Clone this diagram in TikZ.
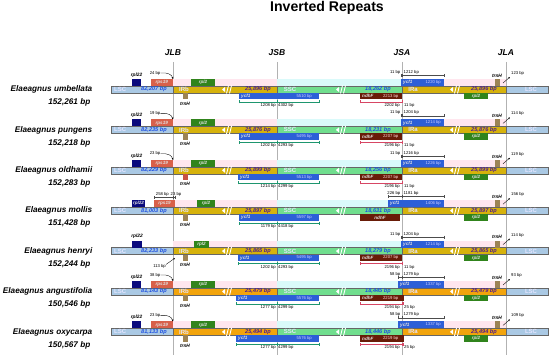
\documentclass[tikz,border=0pt]{standalone}
\usepackage{fontspec}
\setmainfont{Liberation Sans}
\usetikzlibrary{arrows.meta}
\definecolor{lscblue}{RGB}{170,201,228}
\definecolor{irgold}{RGB}{214,178,12}
\definecolor{irorange}{RGB}{242,164,12}
\definecolor{sscgreen}{RGB}{112,222,142}
\definecolor{ycfblue}{RGB}{45,95,215}
\definecolor{ndhbrown}{RGB}{105,28,8}
\definecolor{rpsred}{RGB}{216,96,74}
\definecolor{rplnavy}{RGB}{10,10,125}
\definecolor{rplgreen}{RGB}{48,132,28}
\definecolor{trnbrown}{RGB}{156,131,85}
\definecolor{trnred}{RGB}{200,82,70}
\definecolor{lenblue}{RGB}{30,80,225}
\definecolor{lenpurple}{RGB}{78,28,145}
\definecolor{irpink}{RGB}{255,230,238}
\definecolor{ssccyan}{RGB}{218,250,250}
\definecolor{junctiongray}{RGB}{178,178,178}
\definecolor{dimteal}{RGB}{30,150,110}
\definecolor{dimpink}{RGB}{215,70,100}

\tikzset{
  barseg/.style={draw=black!60, line width=0.5pt},
  genetxt/.style={font=\fontsize{4.6}{5}\selectfont\bfseries\itshape, text=white!88!black, inner sep=0pt},
  genename/.style={font=\fontsize{4.8}{5}\selectfont\bfseries\itshape, inner sep=0pt},
  bptxt/.style={font=\fontsize{4.2}{5}\selectfont, inner sep=0pt},
  boxbp/.style={font=\fontsize{4.2}{5}\selectfont, text=white!80!blue, inner sep=0pt},
  regtxt/.style={font=\fontsize{6}{7}\selectfont\bfseries, text=white!90!blue, inner sep=0pt},
  lentxt/.style={font=\fontsize{5.6}{6}\selectfont\bfseries\itshape, inner sep=0pt},
  nametxt/.style={font=\fontsize{8.2}{9}\selectfont\bfseries\itshape, inner sep=0pt},
  junctxt/.style={font=\fontsize{8.5}{9}\selectfont\bfseries\itshape, inner sep=0pt},
  dimbar/.style={{Bar[width=3pt]}-{Bar[width=3pt]}, line width=0.4pt},
  bparrow/.style={-{Stealth[length=2pt,width=1.6pt]}, line width=0.35pt},
  junction/.style={draw=junctiongray, line width=0.5pt}
}

% one genome bar: ir colour, name, size, lsc, ir, ssc
\newcommand{\speciesbar}[6]{%
  \fill[irpink] (173,-10.5) rectangle (277,-3.5);
  \fill[irpink] (402,-10.5) rectangle (506,-3.5);
  \fill[ssccyan] (277,-10.5) rectangle (402,-3.5);
  \filldraw[barseg, fill=lscblue] (111,-3.5) rectangle (173,3.5);
  \filldraw[barseg, fill=#1] (173,-3.5) rectangle (277,3.5);
  \filldraw[barseg, fill=sscgreen] (277,-3.5) rectangle (402,3.5);
  \filldraw[barseg, fill=#1] (402,-3.5) rectangle (506,3.5);
  \filldraw[barseg, fill=lscblue] (506,-3.5) rectangle (548,3.5);
  \foreach \bx in {222,336,450} {
    \fill[white] (\bx,0) -- (\bx+3,-2.6) -- (\bx+3,2.6) -- cycle;
    \draw[white, line width=0.9pt] (\bx+4.5,4) -- (\bx+6.5,-4) (\bx+7.5,4) -- (\bx+9.5,-4);
  }
  \node[regtxt, anchor=west] (lscbtag) at (114,0) {LSC};
  \node[lentxt, text=lenblue] (lscblen) at (154,0) {#4};
  \node[regtxt] (irbtag) at (184,0) {IRb};
  \node[lentxt, text=lenpurple] (irblen) at (258,0) {#5};
  \node[regtxt] (ssctag) at (290,0) {SSC};
  \node[lentxt, text=lenblue] (ssclen) at (378,0) {#6};
  \node[regtxt] (iratag) at (413,0) {IRa};
  \node[lentxt, text=lenpurple] (iralen) at (484,0) {#5};
  \node[regtxt] (lscatag) at (531,0) {LSC};
  \node[nametxt, anchor=east] (spname) at (92.5,0) {#2};
  \node[nametxt, anchor=east] (spsize) at (90.5,13) {#3};
}

% rpl22, rps19 and rpl2 at JLB
\newcommand{\leftgenes}[1]{%
  \fill[rplnavy] (132,-10.5) rectangle (141,-3.5);
  \node[genename] (rpltag) at (136.5,-14.5) {rpl22};
  \fill[rpsred] (151,-10.5) rectangle (172.5,-3.5);
  \node[genetxt] (rpstag) at (161.75,-7) {rps19};
  \node[bptxt, anchor=east] (rpsbp) at (160.5,-16.5) {#1};
  \coordinate (rpstip) at (172.5,-10.5);
  \draw[bparrow] (rpsbp.east) .. controls +(7,-1) and +(0,-4) .. (rpstip);
  \fill[rplgreen] (191,-10.5) rectangle (215,-3.5);
  \node[genetxt] (rpl2tag) at (203,-7) {rpl2};
}

\newcommand{\trnhb}[1]{%
  \fill[#1] (182.5,3.5) rectangle (187.5,10);
  \node[genename] (trnbtag) at (185,14) {trnH};
}

% ycf1 across JSB: start, length, left, right
\newcommand{\ycfjsb}[4]{%
  \fill[ycfblue] (#1,3.5) rectangle (319,10);
  \node[genetxt, anchor=west] (ycfbtag) at (#1+2,6.75) {ycf1};
  \node[boxbp, anchor=east] (ycfblen) at (312,6.75) {#2};
  \coordinate (ycfbl) at (#1,12.5);
  \coordinate (ycfbm) at (277,12.5);
  \coordinate (ycfbr) at (319,12.5);
  \draw[dimbar, draw=dimteal] (ycfbl) -- (ycfbr);
  \draw[dimteal, line width=0.4pt] (ycfbm) ++(0,-1.5) -- ++(0,3);
  \node[bptxt, anchor=east] (ycfbleft) at (276,16) {#3};
  \node[bptxt, anchor=west] (ycfbright) at (278,16) {#4};
}

% ndhF across JSA: end, length, left, right
\newcommand{\ndhjsa}[4]{%
  \fill[ndhbrown] (360,3.5) rectangle (#1,10);
  \node[genetxt, anchor=west] (ndhtag) at (362,6.75) {ndhF};
  \node[boxbp, anchor=east, text=white!85!red] (ndhlen) at (398.5,6.75) {#2};
  \coordinate (ndhl) at (360,12.5);
  \coordinate (ndhm) at (402,12.5);
  \coordinate (ndhr) at (#1,12.5);
  \draw[dimbar, draw=dimpink] (ndhl) -- (ndhr);
  \draw[dimpink, line width=0.4pt] (ndhm) ++(0,-1.5) -- ++(0,3);
  \node[bptxt, anchor=east] (ndhleft) at (400,16) {#3};
  \node[bptxt, anchor=west] (ndhright) at (404,16) {#4};
}

% ycf1 across JSA: start, length, left, right
\newcommand{\ycfjsa}[4]{%
  \fill[ycfblue] (#1,-10.5) rectangle (444,-3.5);
  \node[genetxt, anchor=west] (ycfatag) at (#1+2,-7) {ycf1};
  \node[boxbp, anchor=east] (ycfalen) at (441,-7) {#2};
  \coordinate (ycfal) at (#1,-14);
  \coordinate (ycfam) at (402,-14);
  \coordinate (ycfar) at (444,-14);
  \draw[dimbar, draw=black!70] (ycfal) -- (ycfar);
  \draw[black!70, line width=0.4pt] (ycfam) ++(0,-1.5) -- ++(0,3);
  \node[bptxt, anchor=east] (ycfaleft) at (400.5,-17) {#3};
  \node[bptxt, anchor=west] (ycfaright) at (403.5,-17) {#4};
}

% rpl2 and trnH at JLA
\newcommand{\rightgenes}[1]{%
  \fill[rplgreen] (464,3.5) rectangle (488,10);
  \node[genetxt] (rpl2atag) at (476,6.75) {rpl2};
  \fill[trnbrown] (495,-10.5) rectangle (500,-3.5);
  \node[genename] (trnatag) at (497,-13.8) {trnH};
  \coordinate (trnaa) at (503,-6.5);
  \coordinate (trnab) at (510,-12.5);
  \draw[bparrow] (trnaa) -- (trnab);
  \node[bptxt, anchor=west] (trnabp) at (511,-16) {#1};
}

\begin{document}
\begin{tikzpicture}[x=1pt, y=-1pt]
  \useasboundingbox (0,0) rectangle (550,355);

  \node[font=\fontsize{14.1}{16}\selectfont\bfseries, inner sep=0pt, anchor=base] (title) at (327,12) {Inverted Repeats};

  \foreach \jx/\jname in {173/JLB, 277/JSB, 402/JSA, 506/JLA} {
    \node[junctxt] (\jname) at (\jx,53) {\jname};
    \draw[junction] (\jx,62) -- (\jx,355);
  }

  \begin{scope}[shift={(0,89.5)}]
    \speciesbar{irgold}{Elaeagnus umbellata}{152,261 bp}{82,207 bp}{25,896 bp}{18,262 bp}
    \leftgenes{24 bp}
    \trnhb{trnbrown}
    \ycfjsb{239}{5510 bp}{1208 bp}{4302 bp}
    \ndhjsa{402}{2213 bp}{2202 bp}{11 bp}
    \ycfjsa{401}{1220 bp}{11 bp}{1212 bp}
    \rightgenes{123 bp}
  \end{scope}

  \begin{scope}[shift={(0,129.9)}]
    \speciesbar{irgold}{Elaeagnus pungens}{152,218 bp}{82,235 bp}{25,876 bp}{18,231 bp}
    \leftgenes{19 bp}
    \trnhb{trnbrown}
    \ycfjsb{239}{5495 bp}{1202 bp}{4293 bp}
    \ndhjsa{402}{2207 bp}{2196 bp}{11 bp}
    \ycfjsa{401}{1214 bp}{11 bp}{1204 bp}
    \rightgenes{114 bp}
  \end{scope}

  \begin{scope}[shift={(0,170.3)}]
    \speciesbar{irgold}{Elaeagnus oldhamii}{152,283 bp}{82,229 bp}{25,899 bp}{18,256 bp}
    \leftgenes{23 bp}
    \trnhb{trnred}
    \ycfjsb{238}{5513 bp}{1214 bp}{4299 bp}
    \ndhjsa{402}{2207 bp}{2196 bp}{11 bp}
    \ycfjsa{401}{1226 bp}{11 bp}{1216 bp}
    \rightgenes{119 bp}
  \end{scope}

  \begin{scope}[shift={(0,210.7)}]
    \speciesbar{irgold}{Elaeagnus mollis}{151,428 bp}{81,003 bp}{25,897 bp}{18,631 bp}
    \fill[rplnavy] (132,-10.5) rectangle (145,-3.5);
    \node[genetxt] (rpltag) at (138.5,-7) {rpl22};
    \fill[rpsred] (154,-10.5) rectangle (175,-3.5);
    \node[genetxt] (rpstag) at (164.5,-7) {rps19};
    \coordinate (rpsl) at (154,-13.5);
    \coordinate (rpsm) at (173,-13.5);
    \coordinate (rpsr) at (175,-13.5);
    \draw[dimbar, draw=black!70] (rpsl) -- (rpsr);
    \draw[black!70, line width=0.4pt] (rpsm) ++(0,-1.5) -- ++(0,3);
    \node[bptxt, anchor=east] (rpsleft) at (169,-16.5) {258 bp};
    \node[bptxt, anchor=west] (rpsright) at (170.5,-16.5) {23 bp};
    \fill[rplgreen] (197,-10.5) rectangle (215,-3.5);
    \node[genetxt] (rpl2tag) at (206,-7) {rpl2};
    \trnhb{trnbrown}
    \ycfjsb{239}{5597 bp}{1179 bp}{4418 bp}
    \fill[ndhbrown] (360,3.5) rectangle (400,10);
    \node[genetxt] (ndhtag) at (380,6.75) {ndhF};
    \ycfjsa{388}{1406 bp}{226 bp}{1181 bp}
    \rightgenes{156 bp}
  \end{scope}

  \begin{scope}[shift={(0,251.1)}]
    \speciesbar{irgold}{Elaeagnus henryi}{152,244 bp}{82,233 bp}{25,865 bp}{18,279 bp}
    \fill[rplnavy] (132,-10.5) rectangle (142,-3.5);
    \node[genename] (rpltag) at (137,-14.5) {rpl22};
    \fill[rplgreen] (194,-10.5) rectangle (209,-3.5);
    \node[genetxt] (rpl2tag) at (201.5,-7) {rpl2};
    \trnhb{trnbrown}
    \node[bptxt, anchor=east] (trnbbp) at (166,15.5) {113 bp};
    \coordinate (trnbtip) at (175,7);
    \draw[bparrow] (trnbbp.north east) -- (trnbtip);
    \ycfjsb{238}{5495 bp}{1202 bp}{4293 bp}
    \ndhjsa{402}{2207 bp}{2196 bp}{11 bp}
    \ycfjsa{401}{1214 bp}{11 bp}{1204 bp}
    \rightgenes{114 bp}
  \end{scope}

  \begin{scope}[shift={(0,291.5)}]
    \speciesbar{irorange}{Elaeagnus angustifolia}{150,546 bp}{81,143 bp}{25,479 bp}{18,445 bp}
    \leftgenes{38 bp}
    \trnhb{trnbrown}
    \ycfjsb{236}{5576 bp}{1277 bp}{4299 bp}
    \ndhjsa{403.5}{2219 bp}{2194 bp}{25 bp}
    \ycfjsa{398}{1337 bp}{58 bp}{1279 bp}
    \rightgenes{93 bp}
  \end{scope}

  \begin{scope}[shift={(0,331.9)}]
    \speciesbar{irorange}{Elaeagnus oxycarpa}{150,567 bp}{81,133 bp}{25,494 bp}{18,446 bp}
    \leftgenes{23 bp}
    \trnhb{trnbrown}
    \ycfjsb{236}{5576 bp}{1277 bp}{4299 bp}
    \ndhjsa{403.5}{2219 bp}{2194 bp}{25 bp}
    \ycfjsa{398}{1337 bp}{58 bp}{1279 bp}
    \rightgenes{109 bp}
  \end{scope}
\end{tikzpicture}
\end{document}
